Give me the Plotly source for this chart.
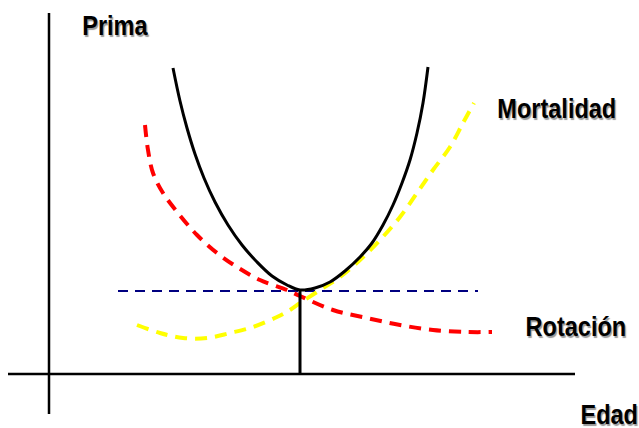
import plotly.graph_objects as go

# Coordinates in a canvas-like data space (x: 0..639 right, y: 0..428 down)
# Black total premium curve (Prima)
prima_x = [173, 180, 187, 195, 204, 215, 228, 242, 257, 272, 287, 300,
           315, 330, 345, 360, 372, 383, 393, 402, 410, 417, 423, 428]
prima_y = [68, 101, 128, 154, 178, 202, 225, 245, 262, 276, 285, 290,
           288, 282, 271, 257, 243, 225, 205, 183, 160, 133, 103, 67]

# Red dashed curve (Rotación)
rot_x = [145, 148, 153, 163, 178, 197, 217, 237, 260, 287, 300, 333, 367, 400, 433, 467, 492]
rot_y = [125, 150, 173, 193, 213, 235, 253, 267, 280, 290, 296, 310, 318, 325, 330, 332, 332]

# Yellow dashed curve (Mortalidad)
mort_x = [137, 160, 183, 207, 230, 253, 277, 290, 300, 320, 340, 360, 380, 400, 417, 433, 450, 463, 474]
mort_y = [325, 333, 338, 338, 333, 327, 317, 310, 303, 290, 277, 260, 240, 217, 193, 170, 147, 123, 103]

# Dark blue dashed horizontal level line
level_x = [118, 478]
level_y = [291, 291]

# Vertical line at minimum
min_x = [300, 300]
min_y = [291, 374]

# Axes
xaxis_x = [8, 575]
xaxis_y = [374, 374]
yaxis_x = [49, 49]
yaxis_y = [13, 414]

labels = ["Prima", "Mortalidad", "Rotación", "Edad"]
label_x = [115, 557, 576, 609]
label_y = [25, 108, 326, 414]

fig = go.Figure()
fig.add_trace(go.Scatter(x=xaxis_x, y=xaxis_y, mode="lines", line=dict(color="black", width=2.5)))
fig.add_trace(go.Scatter(x=yaxis_x, y=yaxis_y, mode="lines", line=dict(color="black", width=2.5)))
fig.add_trace(go.Scatter(x=level_x, y=level_y, mode="lines",
                         line=dict(color="#000080", width=2, dash="10px,7px")))
fig.add_trace(go.Scatter(x=mort_x, y=mort_y, mode="lines", line_shape="spline",
                         line=dict(color="#FFFF00", width=4, dash="12px,8px")))
fig.add_trace(go.Scatter(x=rot_x, y=rot_y, mode="lines", line_shape="spline",
                         line=dict(color="#FF0000", width=4, dash="12px,8px")))
fig.add_trace(go.Scatter(x=min_x, y=min_y, mode="lines", line=dict(color="black", width=3)))
fig.add_trace(go.Scatter(x=prima_x, y=prima_y, mode="lines", line_shape="spline",
                         line=dict(color="black", width=3)))

for t, x, y in zip(labels, label_x, label_y):
    fig.add_annotation(x=x, y=y, text=t, showarrow=False, xanchor="center", yanchor="middle",
                       font=dict(family="Liberation Sans, Arial, sans-serif", size=28, weight="bold",
                                 color="black", shadow="1.5px 1.5px 1px #999"))

fig.update_layout(width=639, height=428, margin=dict(l=0, r=0, t=0, b=0),
                  paper_bgcolor="white", plot_bgcolor="white", showlegend=False,
                  hovermode=False,
                  xaxis=dict(range=[0, 639], visible=False, fixedrange=True),
                  yaxis=dict(range=[428, 0], visible=False, fixedrange=True))

post = """
document.body.style.margin = '0';
document.querySelectorAll('.annotation-text').forEach(function(t){
  var w = t.getComputedTextLength();
  t.setAttribute('textLength', (w * 0.84).toFixed(1));
  t.setAttribute('lengthAdjust', 'spacingAndGlyphs');
});
"""
fig.write_html("out.html", post_script=post, config={"displayModeBar": False})
